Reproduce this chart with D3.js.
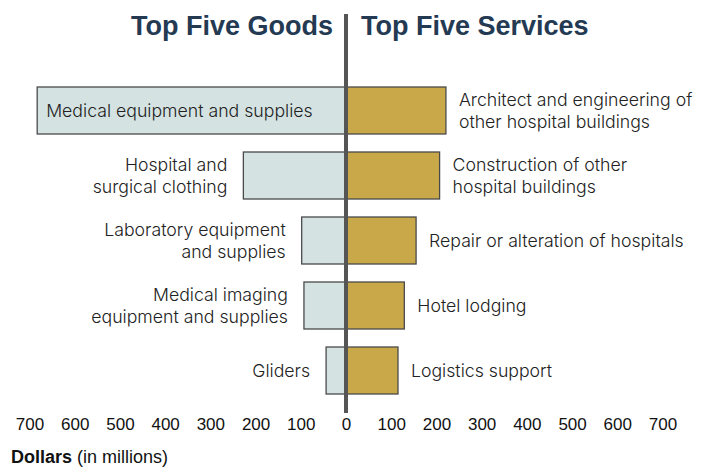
<!DOCTYPE html>
<html>
<head>
<meta charset="utf-8">
<script src="https://cdn.jsdelivr.net/npm/d3@7"></script>
<style>
  body { margin: 0; background: #fff; }
  svg { display: block; }
</style>
</head>
<body>
<div id="chart"></div>
<script>
// chart data (dollars in millions)
var goodsLabels = [
  ["Medical equipment and supplies"],
  ["Hospital and", "surgical clothing"],
  ["Laboratory equipment", "and supplies"],
  ["Medical imaging", "equipment and supplies"],
  ["Gliders"]
];
var goodsValues = [683, 227, 98, 93, 44];

var serviceLabels = [
  ["Architect and engineering of", "other hospital buildings"],
  ["Construction of other", "hospital buildings"],
  ["Repair or alteration of hospitals"],
  ["Hotel lodging"],
  ["Logistics support"]
];
var serviceValues = [221, 207, 155, 129, 115];

var tickValues = [-700, -600, -500, -400, -300, -200, -100, 0, 100, 200, 300, 400, 500, 600, 700];

var svgWidth = 705;
var svgHeight = 467;

var svg = d3.select('#chart')
  .append('svg')
  .attr('width', svgWidth)
  .attr('height', svgHeight);

// one scale, goods on the negative side
var x = d3.scaleLinear()
  .domain([-700, 700])
  .range([29.5, 662.5]);

var idx = d3.range(goodsValues.length);
var y = d3.scaleBand()
  .domain(idx)
  .range([78, 403])
  .paddingInner(0.277)
  .paddingOuter(0.1385);

var labelFont = 'Inter, Roboto, sans-serif';
var lineH = 22;

// goods bars
svg.selectAll('rect.goods')
  .data(idx)
  .enter()
  .append('rect')
  .attr('class', 'goods')
  .attr('x', d => x(-goodsValues[d]))
  .attr('y', d => y(d))
  .attr('width', d => x(0) - x(-goodsValues[d]))
  .attr('height', y.bandwidth())
  .attr('fill', '#d4e3e2')
  .attr('stroke', '#4a4a4a')
  .attr('stroke-width', 1.3);

// service bars
svg.selectAll('rect.serv')
  .data(idx)
  .enter()
  .append('rect')
  .attr('class', 'serv')
  .attr('x', x(0))
  .attr('y', d => y(d))
  .attr('width', d => x(serviceValues[d]) - x(0))
  .attr('height', y.bandwidth())
  .attr('fill', '#c9a84a')
  .attr('stroke', '#4a4a4a')
  .attr('stroke-width', 1.3);

function addLabel(lines, xPos, cy, anchor) {
  var first = cy + 6.3 - (lines.length - 1) * lineH / 2;
  var t = svg.append('text')
    .attr('text-anchor', anchor)
    .attr('font-family', labelFont)
    .attr('font-size', 17.7)
    .attr('font-weight', 300)
    .attr('fill', '#222');
  lines.forEach(function(l, i) {
    t.append('tspan')
      .attr('x', xPos)
      .attr('y', first + i * lineH)
      .text(l);
  });
}

idx.forEach(function(d) {
  var cy = y(d) + y.bandwidth() / 2;
  if (d === 0) {
    // the long bar holds its label inside
    addLabel(goodsLabels[d], x(-goodsValues[d]) + 9, cy, 'start');
  } else {
    addLabel(goodsLabels[d], x(-goodsValues[d]) - 16, cy, 'end');
  }
  addLabel(serviceLabels[d], x(serviceValues[d]) + 13, cy, 'start');
});

// center divider
svg.append('line')
  .attr('x1', x(0))
  .attr('x2', x(0))
  .attr('y1', 14)
  .attr('y2', 413)
  .attr('stroke', '#555')
  .attr('stroke-width', 4);

// titles
svg.append('text')
  .attr('x', x(0) - 13)
  .attr('y', 34.5)
  .attr('text-anchor', 'end')
  .attr('font-family', '"Liberation Sans", Arial, sans-serif')
  .attr('font-weight', 'bold')
  .attr('font-size', 27)
  .attr('fill', '#243a53')
  .text('Top Five Goods');

svg.append('text')
  .attr('x', x(0) + 15)
  .attr('y', 34.5)
  .attr('text-anchor', 'start')
  .attr('font-family', '"Liberation Sans", Arial, sans-serif')
  .attr('font-weight', 'bold')
  .attr('font-size', 27)
  .attr('fill', '#243a53')
  .text('Top Five Services');

// bottom axis
var axis = d3.axisBottom(x)
  .tickValues(tickValues)
  .tickSize(0)
  .tickPadding(0)
  .tickFormat(d => Math.abs(d));

var axisG = svg.append('g')
  .attr('transform', 'translate(0, 418)')
  .call(axis);
axisG.select('.domain').remove();
axisG.selectAll('text')
  .attr('dy', '0.71em')
  .attr('font-family', '"Liberation Sans", Arial, sans-serif')
  .attr('font-size', 17)
  .attr('fill', '#111');

var note = svg.append('text')
  .attr('x', 11)
  .attr('y', 463)
  .attr('font-family', '"Liberation Sans", Arial, sans-serif')
  .attr('font-size', 18)
  .attr('fill', '#111');
note.append('tspan').attr('font-weight', 'bold').text('Dollars');
note.append('tspan').text(' (in millions)');
</script>
</body>
</html>
